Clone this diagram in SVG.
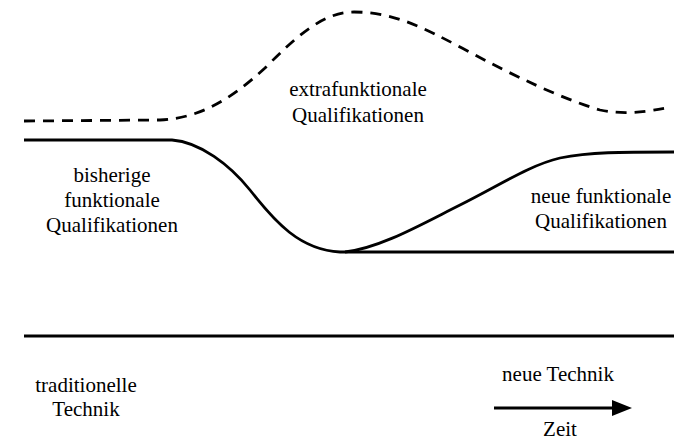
<svg xmlns="http://www.w3.org/2000/svg" width="681" height="442" viewBox="0 0 681 442">
  <style>
    .lbl { font-family: "Liberation Serif", "Times New Roman", serif; font-size: 21px; fill: #000; text-anchor: middle; }
    .solid { fill: none; stroke: #000; stroke-width: 2.8; stroke-linecap: butt; stroke-linejoin: round; }
    .dash { fill: none; stroke: #000; stroke-width: 2.8; stroke-dasharray: 11 8; }
  </style>
  <rect width="681" height="442" fill="#fff"/>

  <g id="connectors">
    <!-- extra-functional qualifications: dashed upper bound -->
    <path id="extra-curve" class="dash" d="M24,121 L160,120 C200,118 230,100 265,68 C295,38 322,12 354,12 C394,12 424,28 462,48 C512,75 560,98 600,110 C625,115 645,112 672,107"/>
    <!-- previous functional qualifications falling away -->
    <path id="old-curve" class="solid" d="M24,140 L172,140 C200,142 230,165 250,190 C275,222 300,250 340,252 L674,252"/>
    <!-- new functional qualifications rising -->
    <path id="new-curve" class="solid" d="M345,252 C380,248 420,225 460,205 C500,185 530,165 560,158 C590,152 620,152 674,152"/>
    <!-- technology axis -->
    <path id="axis" class="solid" d="M24,336 L674,336"/>
    <!-- time arrow -->
    <path id="time-arrow" class="solid" d="M494,408 L614,408"/>
    <polygon points="612,400 632,408 612,416" fill="#000"/>
  </g>

  <g id="extrafunktional">
    <text class="lbl" x="358" y="96">extrafunktionale</text>
    <text class="lbl" x="358" y="122">Qualifikationen</text>
  </g>
  <g id="bisherig">
    <text class="lbl" x="112" y="182">bisherige</text>
    <text class="lbl" x="112" y="207">funktionale</text>
    <text class="lbl" x="112" y="232">Qualifikationen</text>
  </g>
  <g id="neu-funktional">
    <text class="lbl" x="601" y="203">neue funktionale</text>
    <text class="lbl" x="601" y="228">Qualifikationen</text>
  </g>
  <g id="traditionell">
    <text class="lbl" x="86" y="392">traditionelle</text>
    <text class="lbl" x="86" y="416">Technik</text>
  </g>
  <g id="neu-technik">
    <text class="lbl" x="558" y="381">neue Technik</text>
  </g>
  <g id="zeit">
    <text class="lbl" x="560" y="436">Zeit</text>
  </g>
</svg>
